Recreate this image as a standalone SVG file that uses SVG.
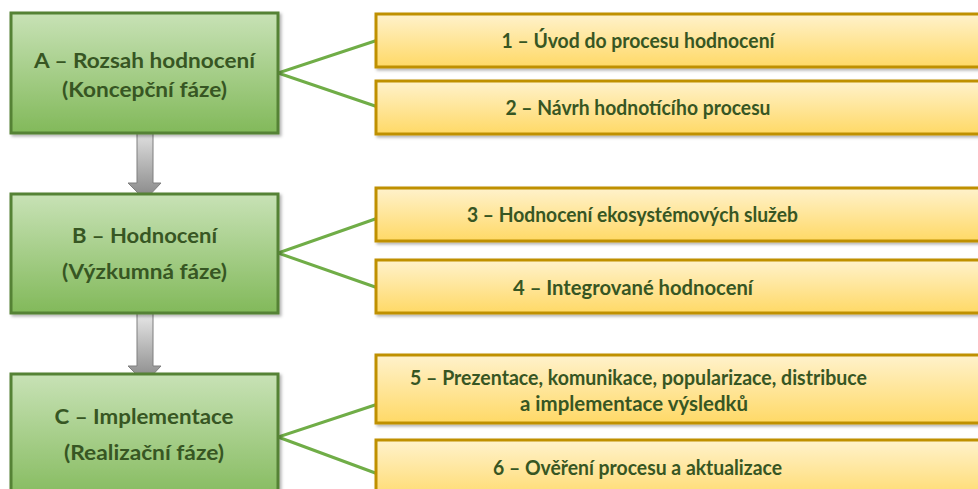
<svg xmlns="http://www.w3.org/2000/svg" width="978" height="489" viewBox="0 0 978 489">
  <defs>
    <linearGradient id="gGreen" x1="0" y1="0" x2="0" y2="1">
      <stop offset="0" stop-color="#c8e2b6"/>
      <stop offset="1" stop-color="#82b95a"/>
    </linearGradient>
    <linearGradient id="gGold" x1="0" y1="0" x2="0" y2="1">
      <stop offset="0" stop-color="#fff2cc"/>
      <stop offset="1" stop-color="#ffd966"/>
    </linearGradient>
    <linearGradient id="gGray" x1="0" y1="0" x2="0" y2="1">
      <stop offset="0" stop-color="#e8e8e8"/>
      <stop offset="1" stop-color="#858585"/>
    </linearGradient>
    <filter id="shadow" x="-5%" y="-10%" width="115%" height="130%">
      <feDropShadow dx="2" dy="2" stdDeviation="1.5" flood-color="#000" flood-opacity="0.3"/>
    </filter>
  </defs>
  <style>
    .phase { fill: url(#gGreen); stroke: #548235; stroke-width: 3; filter: url(#shadow); }
    .step { fill: url(#gGold); stroke: #bf9000; stroke-width: 3; filter: url(#shadow); }
    .link { stroke: #70ad47; stroke-width: 3; fill: none; }
    .flow { fill: url(#gGray); stroke: #7f7f7f; stroke-width: 1; }
    text { font-family: Lato, "Open Sans", "Liberation Sans", sans-serif; font-weight: bold; font-size: 20px; fill: #375623; text-anchor: middle; dominant-baseline: central; }
  </style>

  <rect width="978" height="489" fill="#ffffff"/>

  <!-- connectors -->
  <g id="connectors">
    <polyline class="link" points="378,40 278,73 378,107"/>
    <polyline class="link" points="378,218 278,253 378,288"/>
    <polyline class="link" points="378,404 278,437 378,474"/>
    <path class="flow" d="M137,127 H153 V183 H161 L145,200 L128,183 H137 Z"/>
    <path class="flow" d="M137,313 H153 V366 H161 L145,383 L128,366 H137 Z"/>
  </g>

  <!-- phases -->
  <g id="phaseA">
    <rect class="phase" x="11" y="13" width="267" height="120"/>
    <text x="144.5" y="60" textLength="221" lengthAdjust="spacingAndGlyphs">A – Rozsah hodnocení</text>
    <text x="144.5" y="89" textLength="165" lengthAdjust="spacingAndGlyphs">(Koncepční fáze)</text>
  </g>
  <g id="phaseB">
    <rect class="phase" x="11" y="194" width="267" height="119"/>
    <text x="144.5" y="235" textLength="145" lengthAdjust="spacingAndGlyphs">B – Hodnocení</text>
    <text x="144.5" y="271" textLength="165" lengthAdjust="spacingAndGlyphs">(Výzkumná fáze)</text>
  </g>
  <g id="phaseC">
    <rect class="phase" x="11" y="374" width="267" height="130"/>
    <text x="144" y="416" textLength="179" lengthAdjust="spacingAndGlyphs">C – Implementace</text>
    <text x="144" y="452" textLength="160" lengthAdjust="spacingAndGlyphs">(Realizační fáze)</text>
  </g>

  <!-- steps -->
  <g id="step1">
    <rect class="step" x="376" y="14" width="620" height="53"/>
    <text x="638" y="40" textLength="273" lengthAdjust="spacingAndGlyphs">1 – Úvod do procesu hodnocení</text>
  </g>
  <g id="step2">
    <rect class="step" x="376" y="81" width="620" height="53"/>
    <text x="638" y="107" textLength="265" lengthAdjust="spacingAndGlyphs">2 – Návrh hodnotícího procesu</text>
  </g>
  <g id="step3">
    <rect class="step" x="376" y="188" width="620" height="53"/>
    <text x="632.5" y="214" textLength="331" lengthAdjust="spacingAndGlyphs">3 – Hodnocení ekosystémových služeb</text>
  </g>
  <g id="step4">
    <rect class="step" x="376" y="260" width="620" height="53"/>
    <text x="633" y="287" textLength="240" lengthAdjust="spacingAndGlyphs">4 – Integrované hodnocení</text>
  </g>
  <g id="step5">
    <rect class="step" x="376" y="355" width="620" height="68"/>
    <text x="638.5" y="377" textLength="457" lengthAdjust="spacingAndGlyphs">5 – Prezentace, komunikace, popularizace, distribuce</text>
    <text x="634" y="403" textLength="228" lengthAdjust="spacingAndGlyphs">a implementace výsledků</text>
  </g>
  <g id="step6">
    <rect class="step" x="376" y="440" width="620" height="64"/>
    <text x="637.5" y="467" textLength="289" lengthAdjust="spacingAndGlyphs">6 – Ověření procesu a aktualizace</text>
  </g>
</svg>
